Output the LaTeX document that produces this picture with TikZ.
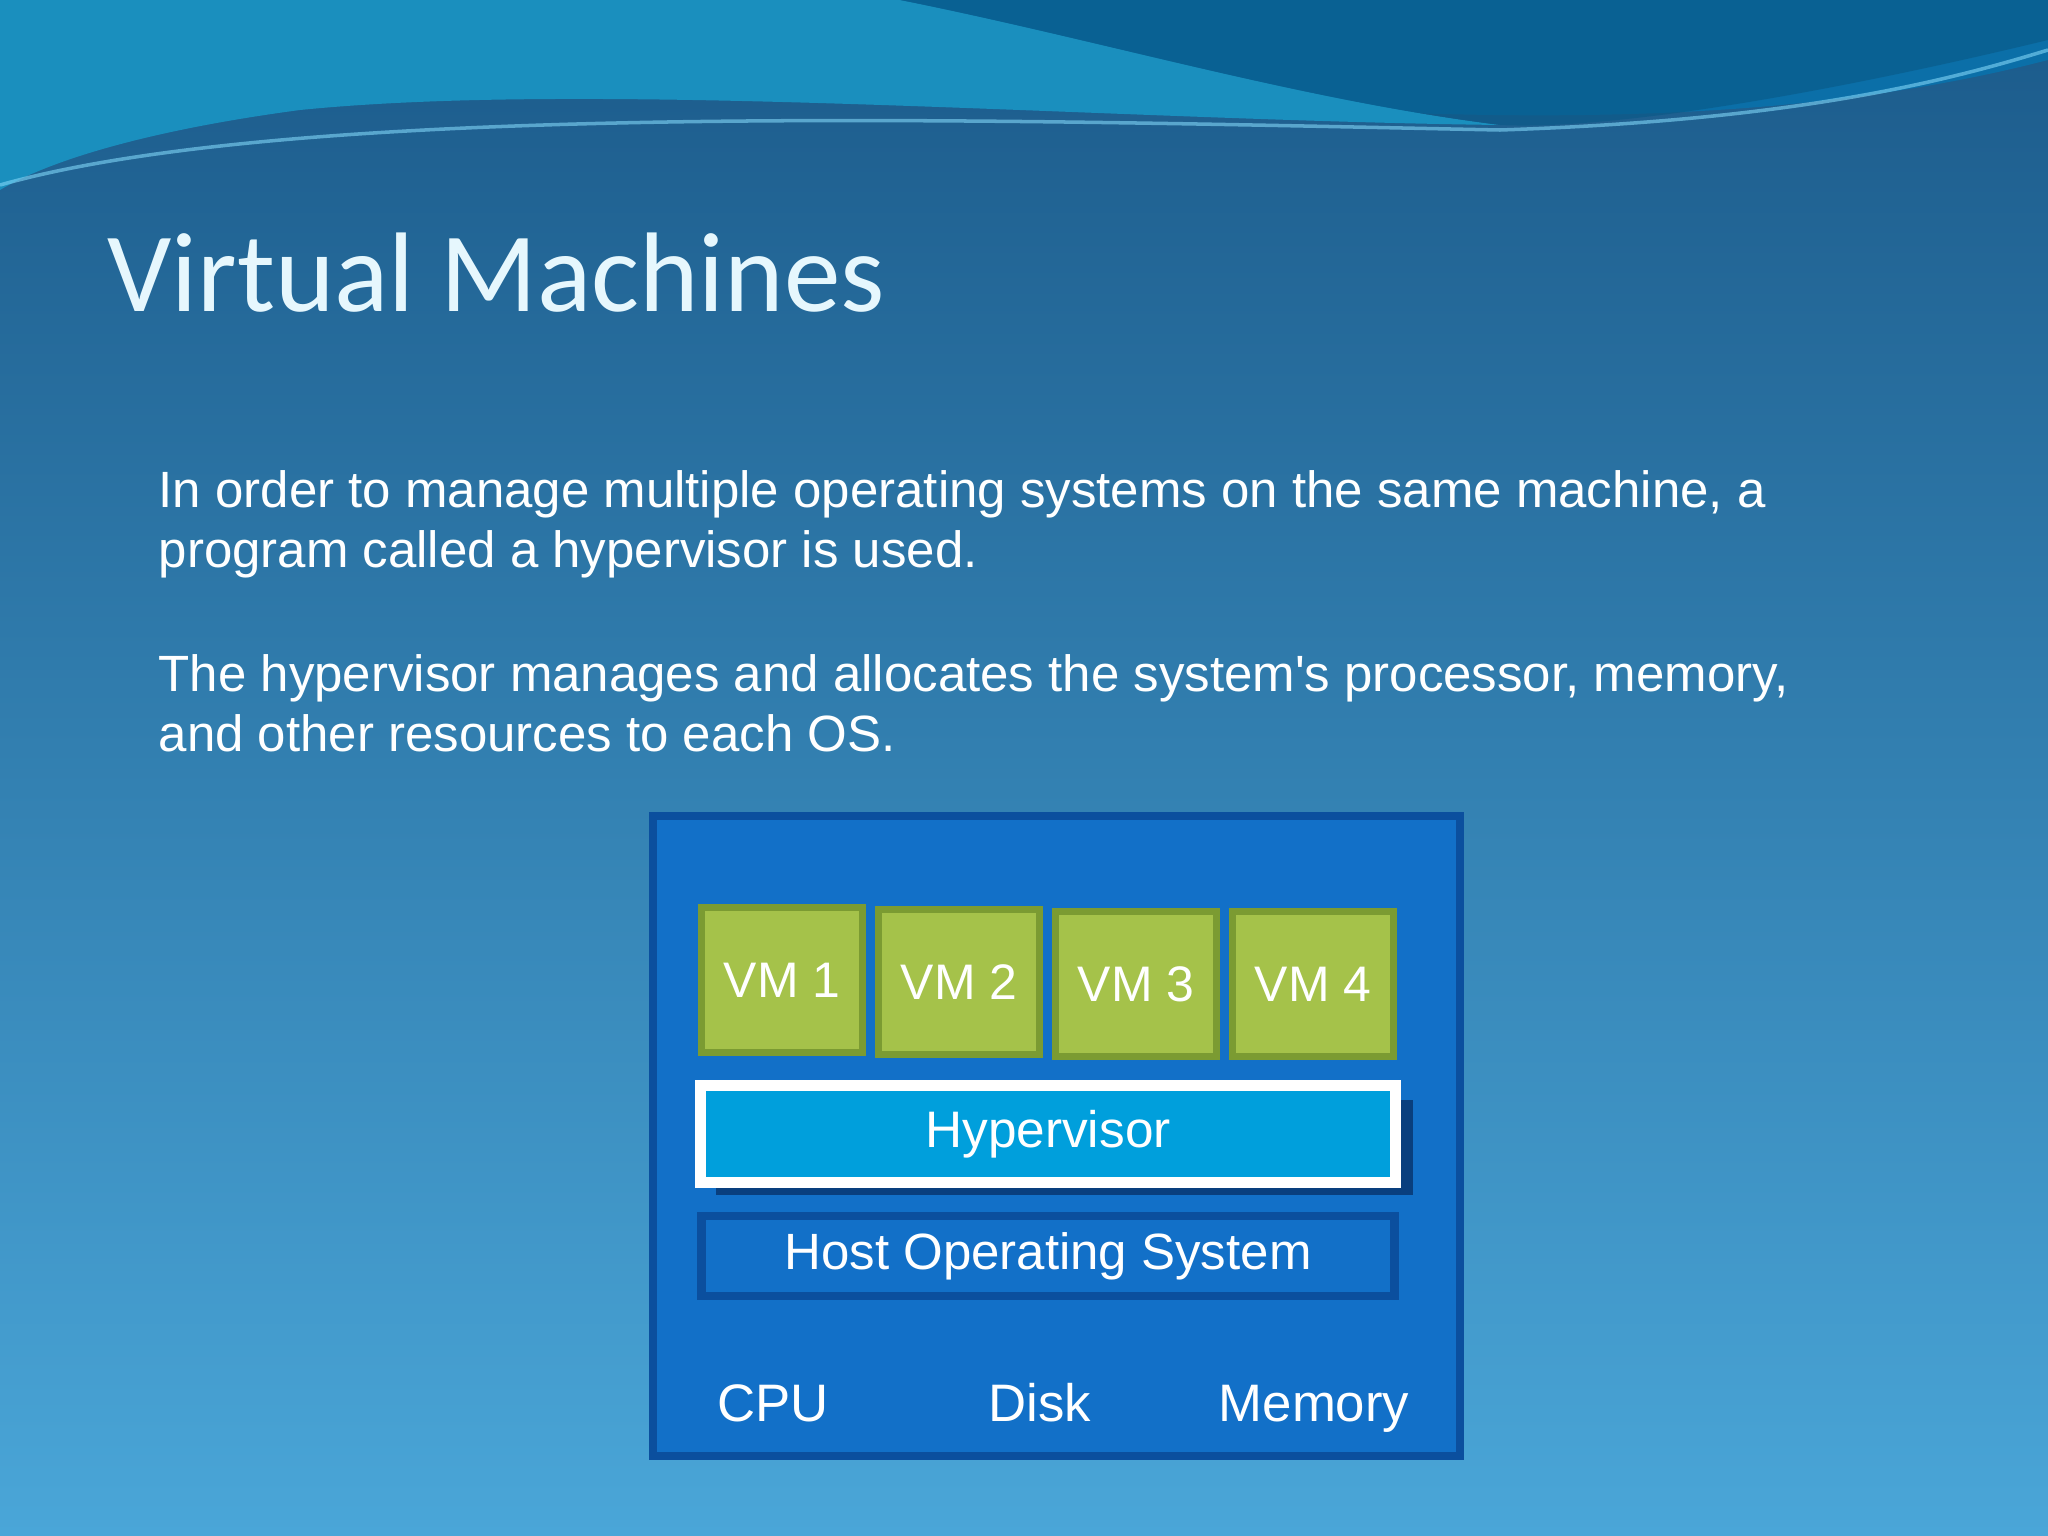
\documentclass[tikz,border=0pt]{standalone}
\usepackage{fontspec}
\setmainfont{Liberation Sans}
\newfontfamily\bodyfont{Liberation Sans}
\newfontfamily\titlefont{Carlito}
\definecolor{bgtop}{HTML}{1B5A8A}
\definecolor{bgbot}{HTML}{4AA6D8}
\definecolor{boxfill}{HTML}{1270C8}
\definecolor{boxline}{HTML}{0B4F9E}
\definecolor{vmfill}{HTML}{A5C24A}
\definecolor{vmline}{HTML}{7B9B32}
\definecolor{hypfill}{HTML}{009FDC}
\definecolor{wave1}{HTML}{1A8FBE}
\definecolor{wave2}{HTML}{0B6FA8}
\begin{document}
\begin{tikzpicture}[x=0.01cm,y=-0.01cm,
  vm/.style={draw=vmline,line width=2pt,fill=vmfill,minimum width=1.6cm,minimum height=1.45cm,inner sep=0,text=white,font=\fontsize{14.2}{17}\selectfont},
  lbl/.style={text=white,font=\fontsize{15}{18}\selectfont,anchor=base},
  body/.style={text=white,font=\bodyfont\fontsize{14.5}{17}\selectfont,anchor=base west,inner sep=0}]
\useasboundingbox (0,0) rectangle (2048,1536);
\shade[top color=bgtop,bottom color=bgbot] (0,0) rectangle (2048,1536);
% top waves
\fill[wave2] (0,0) -- (2048,0) -- (2048,60) .. controls (1700,150) and (1300,110) .. (900,80) .. controls (500,60) and (200,100) .. (0,170) -- cycle;
\fill[wave1] (0,0) -- (900,0) .. controls (1100,40) and (1300,100) .. (1500,125) .. controls (1100,120) and (600,80) .. (300,110) .. controls (150,130) and (50,160) .. (0,190) -- cycle;
\fill[wave2!80!black,opacity=0.6] (900,0) -- (2048,0) -- (2048,40) .. controls (1800,100) and (1600,130) .. (1500,125) .. controls (1300,100) and (1100,40) .. (900,0) -- cycle;
\draw[cyan!50,opacity=0.6,line width=1pt] (0,185) .. controls (300,100) and (1000,120) .. (1500,130) .. controls (1800,120) and (1950,80) .. (2048,50);
\node[text=white!90!cyan,font=\titlefont\fontsize{32.2}{38}\selectfont,anchor=base west,inner sep=0] (title) at (107,311) {Virtual Machines};
\node[body] (l1) at (158,507) {In order to manage multiple operating systems on the same machine, a};
\node[body] (l2) at (158,567) {program called a hypervisor is used.};
\node[body] (l3) at (158,691) {The hypervisor manages and allocates the system's processor, memory,};
\node[body] (l4) at (158,751) {and other resources to each OS.};
% diagram
\draw[boxline,line width=2.5pt,fill=boxfill] (653,816) rectangle (1460,1456);
\node[vm] (vm1) at (782,980) {VM 1};
\node[vm] (vm2) at (959,982) {VM 2};
\node[vm] (vm3) at (1136,984) {VM 3};
\node[vm] (vm4) at (1313,984) {VM 4};
\fill[boxline!80!black] (716,1100) rectangle (1413,1195);
\node[draw=white,line width=3pt,fill=hypfill,minimum width=6.95cm,minimum height=0.97cm,inner sep=0,text=white,font=\fontsize{14.6}{17}\selectfont] (hyp) at (1048,1134) {Hypervisor};
\node[draw=boxline,line width=2.5pt,fill=boxfill,minimum width=6.92cm,minimum height=0.8cm,inner sep=0,text=white,font=\fontsize{14.5}{17}\selectfont] (host) at (1048,1256) {Host Operating System};
\node[lbl] (cpu) at (773,1421) {CPU};
\node[lbl] (disk) at (1040,1421) {Disk};
\node[lbl] (mem) at (1314,1421) {Memory};
\end{tikzpicture}
\end{document}
